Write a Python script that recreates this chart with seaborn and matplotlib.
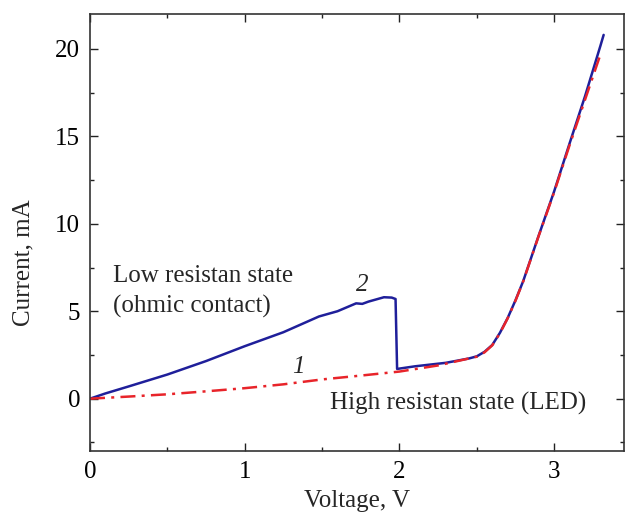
import numpy as np
import pandas as pd
import matplotlib
matplotlib.use("Agg")
import matplotlib.pyplot as plt
from matplotlib.ticker import MultipleLocator
import seaborn as sns

# Curve 1: high resistance state (LED)
v1 = [0.0, 0.25, 0.5, 0.75, 1.0, 1.25, 1.5, 1.75, 2.0, 2.25, 2.5, 2.55, 2.6, 2.65,
      2.7, 2.75, 2.8, 2.85, 2.9, 3.0, 3.1, 3.2, 3.3]
i1 = [0.0, 0.12, 0.25, 0.42, 0.6, 0.82, 1.1, 1.32, 1.55, 1.9, 2.4, 2.65, 3.05, 3.75,
      4.6, 5.6, 6.7, 8.0, 9.3, 11.8, 14.5, 17.1, 19.7]

# Curve 2: low resistance state (ohmic contact), switching at ~2 V
v2 = [0.0, 0.1, 0.25, 0.5, 0.75, 1.0, 1.25, 1.48, 1.6, 1.72, 1.76, 1.8, 1.9, 1.95,
      1.975, 1.985, 2.1, 2.3, 2.45, 2.5, 2.55, 2.6, 2.65, 2.7, 2.75, 2.8, 2.85, 2.9,
      3.0, 3.1, 3.2, 3.3, 3.32]
i2 = [0.0, 0.3, 0.7, 1.38, 2.15, 3.0, 3.8, 4.7, 5.0, 5.45, 5.42, 5.55, 5.8, 5.78,
      5.7, 1.7, 1.85, 2.05, 2.3, 2.42, 2.68, 3.07, 3.77, 4.62, 5.62, 6.72, 8.02, 9.32,
      11.85, 14.6, 17.3, 20.2, 20.8]

x_ticks = [0, 1, 2, 3]
y_ticks = [0, 5, 10, 15, 20]

sns.set_style("ticks")
plt.rcParams['font.family'] = ['Liberation Serif', 'DejaVu Serif']

FS = 18

fig = plt.figure(figsize=(6.25, 5.15), dpi=100)
ax = fig.add_axes([0.144, 0.124, 0.854, 0.849])

d1 = pd.DataFrame({"V": v1, "I": i1})
d2 = pd.DataFrame({"V": v2, "I": i2})

sns.lineplot(data=d2, x="V", y="I", ax=ax, color="#1f1f9a", lw=1.8, sort=False,
             estimator=None)
sns.lineplot(data=d1, x="V", y="I", ax=ax, color="#e8242a", lw=1.8, sort=False,
             estimator=None)
ax.lines[-1].set_dashes([6, 2.5, 1.2, 2.5])

ax.set_xlim(0, 3.45)
ax.set_ylim(-3, 22)
ax.set_xticks(x_ticks)
ax.set_yticks(y_ticks)
ax.xaxis.set_minor_locator(MultipleLocator(0.5))
ax.yaxis.set_minor_locator(MultipleLocator(2.5))
ax.tick_params(which='both', direction='in', top=True, right=True,
               labelsize=FS, width=1.0, colors='#222222', labelcolor='black')
ax.tick_params(which='major', length=6, pad=7)
ax.tick_params(which='minor', length=3)
for s in ax.spines.values():
    s.set_linewidth(1.2)
    s.set_color('#333333')
    s.set_visible(True)

ax.set_xlabel("Voltage, V", fontsize=FS, labelpad=5)
ax.set_ylabel("Current, mA", fontsize=FS)
ax.yaxis.set_label_coords(-0.104, 0.432)

ax.text(0.15, 7.0, "Low resistan state", fontsize=FS, va='center', ha='left')
ax.text(0.15, 5.25, "(ohmic contact)", fontsize=FS, va='center', ha='left')
ax.text(1.76, 6.5, "2", fontsize=FS, style='italic', va='center', ha='center')
ax.text(1.35, 1.8, "1", fontsize=FS, style='italic', va='center', ha='center')
ax.text(1.55, -0.3, "High resistan state (LED)", fontsize=FS, va='center', ha='left')

fig.savefig("out.png", dpi=100)
